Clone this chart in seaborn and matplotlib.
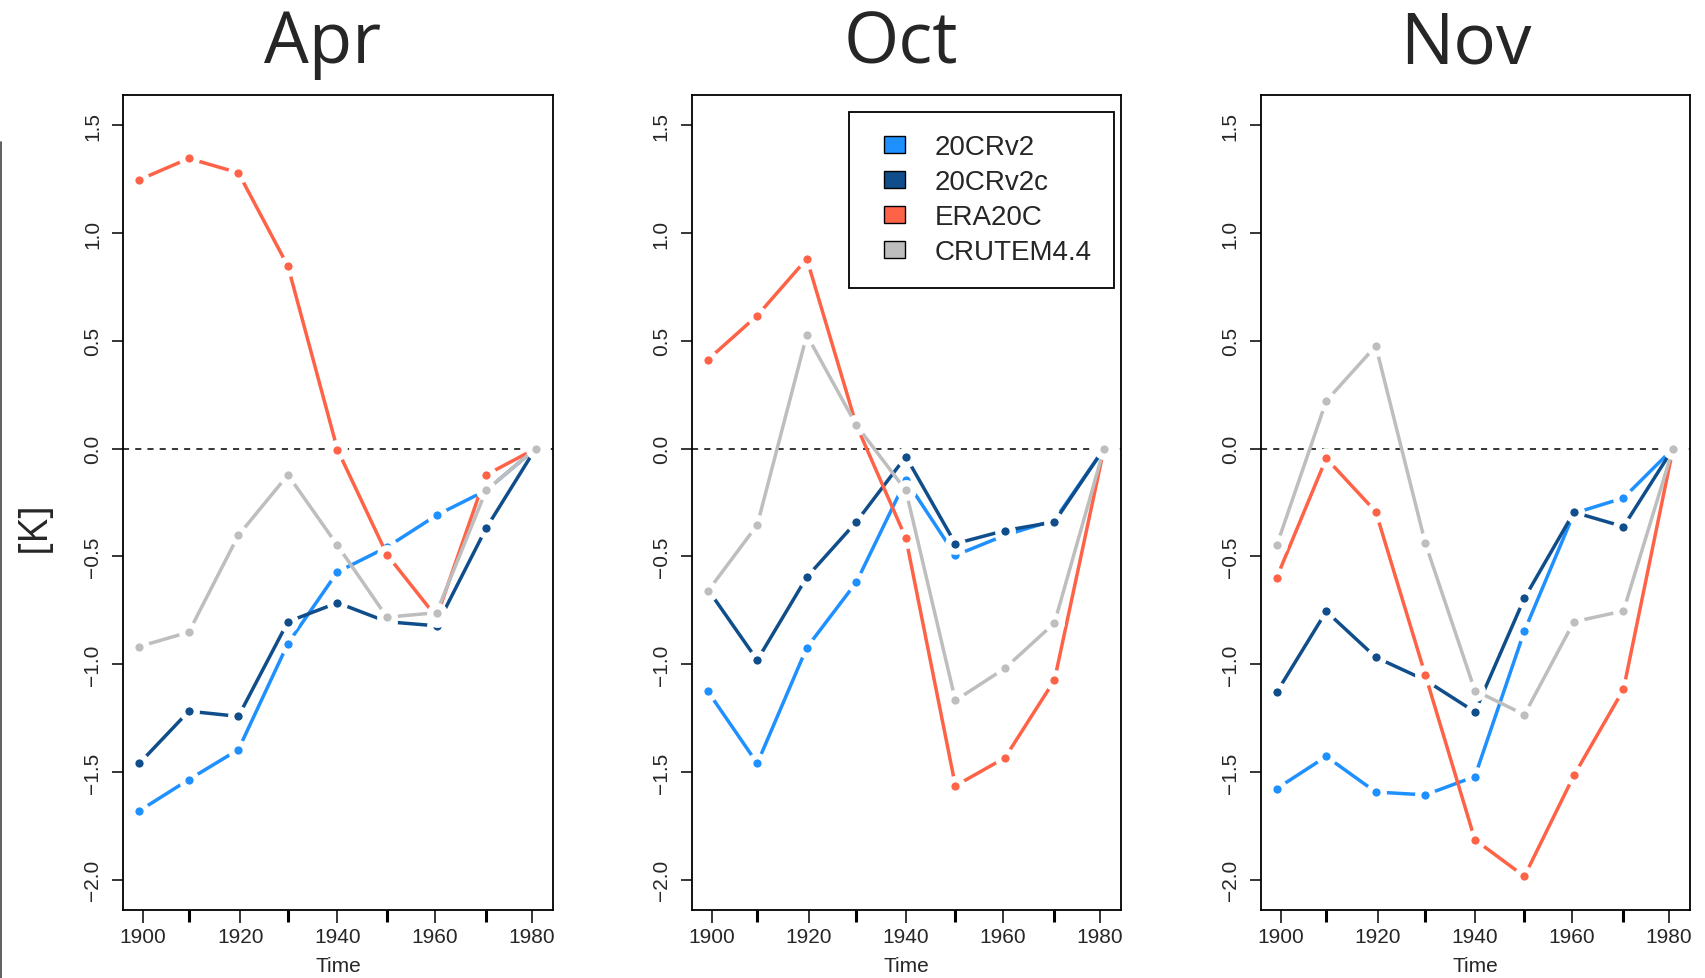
import matplotlib
matplotlib.use("Agg")
import matplotlib.pyplot as plt
import seaborn as sns
import pandas as pd
from matplotlib.patches import Patch, Rectangle
from matplotlib.legend_handler import HandlerPatch
from matplotlib.lines import Line2D

# ---------------- data ----------------
years = [1899.2, 1909.4, 1919.6, 1929.8, 1940.0, 1950.2, 1960.4, 1970.6, 1980.8]
series = ["20CRv2", "20CRv2c", "ERA20C", "CRUTEM4.4"]
colors = ["#1E90FF", "#104E8B", "#FF6347", "#BEBEBE"]
months = ["Apr", "Oct", "Nov"]

apr_20crv2 = [-1.68, -1.535, -1.396, -0.904, -0.572, -0.457, -0.309, -0.194, 0.0]
apr_20crv2c = [-1.46, -1.218, -1.242, -0.803, -0.715, -0.803, -0.822, -0.37, 0.0]
apr_era20c = [1.247, 1.346, 1.279, 0.846, -0.005, -0.492, -0.782, -0.122, 0.0]
apr_crutem = [-0.918, -0.851, -0.402, -0.122, -0.449, -0.782, -0.761, -0.194, 0.0]

oct_20crv2 = [-1.125, -1.46, -0.923, -0.62, -0.146, -0.495, -0.402, -0.332, 0.0]
oct_20crv2c = [-0.652, -0.981, -0.596, -0.34, -0.037, -0.441, -0.38, -0.34, 0.0]
oct_era20c = [0.412, 0.617, 0.880, 0.109, -0.415, -1.564, -1.434, -1.074, 0.0]
oct_crutem = [-0.662, -0.354, 0.527, 0.109, -0.194, -1.168, -1.019, -0.809, 0.0]

nov_20crv2 = [-1.577, -1.428, -1.593, -1.606, -1.521, -0.846, -0.30, -0.229, 0.0]
nov_20crv2c = [-1.13, -0.755, -0.968, -1.074, -1.221, -0.694, -0.295, -0.362, 0.0]
nov_era20c = [-0.598, -0.045, -0.293, -1.05, -1.814, -1.984, -1.516, -1.117, 0.0]
nov_crutem = [-0.449, 0.221, 0.476, -0.439, -1.122, -1.234, -0.803, -0.753, 0.0]

panel_values = {
    "Apr": [apr_20crv2, apr_20crv2c, apr_era20c, apr_crutem],
    "Oct": [oct_20crv2, oct_20crv2c, oct_era20c, oct_crutem],
    "Nov": [nov_20crv2, nov_20crv2c, nov_era20c, nov_crutem],
}

xtick_major = [1900, 1920, 1940, 1960, 1980]
ytick_vals = [-2.0, -1.5, -1.0, -0.5, 0.0, 0.5, 1.0, 1.5]

# ---------------- style ----------------
sns.set_style("ticks")
plt.rcParams["font.family"] = ["Liberation Sans", "DejaVu Sans"]
plt.rcParams["axes.unicode_minus"] = True

W, H = 1706, 979
fig = plt.figure(figsize=(W / 100, H / 100), dpi=100)

ax_left_px = [123.3, 691.7, 1260.7]
ax_w_px = 429.3
ax_top_px, ax_bot_px = 96.0, 911.0
title_x_px = [323, 901, 1466]

palette = dict(zip(series, colors))

for i, m in enumerate(months):
    ax = fig.add_axes([ax_left_px[i] / W, 1 - ax_bot_px / H,
                       ax_w_px / W, (ax_bot_px - ax_top_px) / H])
    rows = []
    for s, vals in zip(series, panel_values[m]):
        for x, v in zip(years, vals):
            rows.append({"Time": x, "K": v, "series": s})
    df = pd.DataFrame(rows)

    ax.axhline(0, color="black", lw=1.1, ls=(0, (4, 4)), zorder=1)
    for s in series:
        sub = df[df["series"] == s]
        sns.lineplot(data=sub, x="Time", y="K", color=palette[s], ax=ax,
                     linewidth=2.5, marker="o", markersize=10.5,
                     markeredgecolor="white", markeredgewidth=4.5,
                     markerfacecolor=palette[s], legend=False, zorder=2,
                     estimator=None, sort=False)

    ax.set_xlim(1895.9, 1984.3)
    ax.set_ylim(-2.14, 1.64)
    ax.set_xticks(xtick_major)
    ax.set_xticks(years[1::2], minor=True)
    ax.set_yticks(ytick_vals)
    ax.set_yticklabels([f"{v:.1f}".replace("-", "\u2212") for v in ytick_vals],
                       rotation=90, va="center")
    ax.tick_params(axis="x", which="major", length=9.5, width=1.1,
                   labelsize=15, pad=3, color="black")
    ax.tick_params(axis="x", which="minor", length=8.5, width=2.2,
                   color="black")
    ax.tick_params(axis="y", which="major", length=8, width=1.1,
                   labelsize=15, pad=7, color="black")
    for sp in ax.spines.values():
        sp.set_linewidth(1.3)
        sp.set_color("black")
        sp.set_visible(True)
    ax.set_xlabel("Time", fontsize=15, labelpad=7)
    ax.set_ylabel("")
    ax.grid(False)

    fig.text(title_x_px[i] / W, 1 - 63 / H, m, fontsize=51,
             family=["Open Sans", "DejaVu Sans"], ha="center", va="baseline")

    if m == "Oct":
        fs = 20.0
        hw_pt = 15.1
        hh_pt = 12.2
        extra_pt = 9.1

        def make_rect(legend, orig_handle, xdescent, ydescent, width, height, fontsize):
            return Rectangle((-xdescent + width - hw_pt, -ydescent + (height - hh_pt) / 2),
                             hw_pt, hh_pt)

        handles = [Patch(facecolor=c, edgecolor="black", linewidth=1.0) for c in colors]
        leg = ax.legend(handles, series, loc="upper right",
                        bbox_to_anchor=((1113.6 - ax_left_px[i]) / ax_w_px,
                                        (ax_bot_px - 112.7) / (ax_bot_px - ax_top_px)),
                        borderaxespad=0, fontsize=fs, frameon=True, fancybox=False,
                        framealpha=1, edgecolor="black",
                        handlelength=(hw_pt + extra_pt) / fs, handleheight=hh_pt / fs,
                        handletextpad=1.05, labelspacing=0.33, borderpad=0.8,
                        handler_map={Patch: HandlerPatch(patch_func=make_rect)})
        leg.get_frame().set_linewidth(1.3)

fig.text(35 / W, 1 - 526 / H, "[K]", fontsize=29, rotation=90,
         family=["Open Sans", "DejaVu Sans"], ha="center", va="center")

fig.add_artist(Line2D([0.6 / W, 0.6 / W], [0, 1 - 143 / H], color="#444444", lw=1.2))

fig.savefig("out.png", dpi=100)
